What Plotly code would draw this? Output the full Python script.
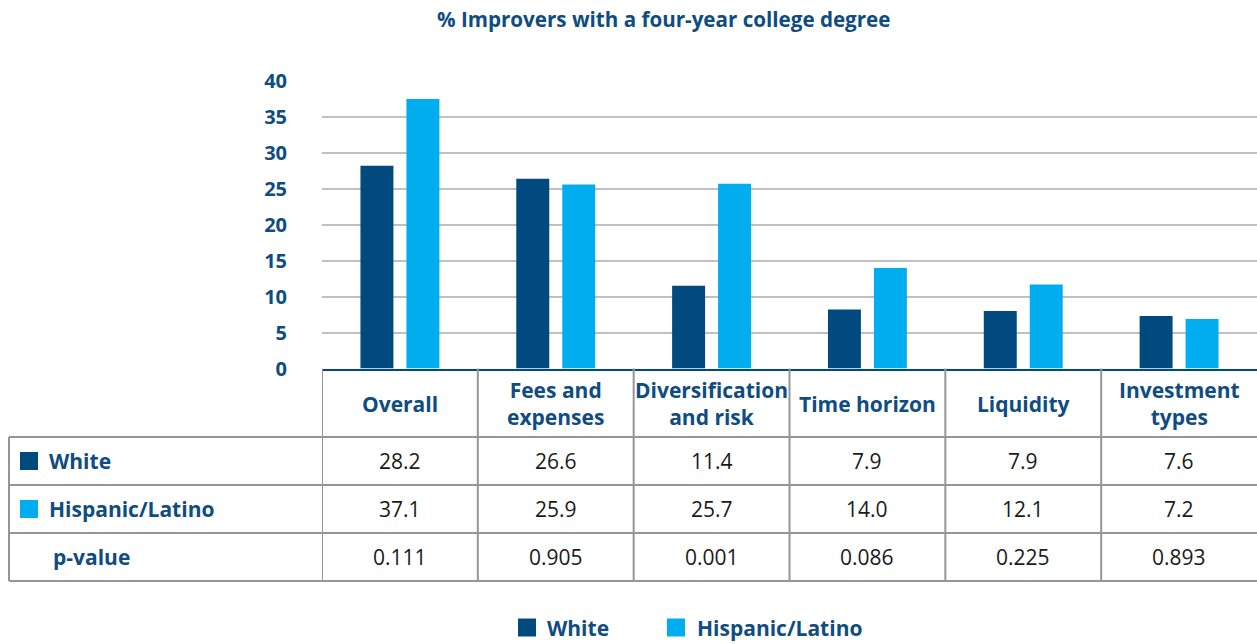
import plotly.graph_objects as go

# ---------------- data ----------------
categories = ["Overall", "Fees and<br>expenses", "Diversification<br>and risk",
              "Time horizon", "Liquidity", "Investment<br>types"]
series_names = ["White", "Hispanic/Latino"]
white_bars = [28.2, 26.4, 11.5, 8.2, 8.0, 7.3]
hispanic_bars = [37.5, 25.6, 25.7, 14.0, 11.7, 6.9]
white_table = ["28.2", "26.6", "11.4", "7.9", "7.9", "7.6"]
hispanic_table = ["37.1", "25.9", "25.7", "14.0", "12.1", "7.2"]
pvalues = ["0.111", "0.905", "0.001", "0.086", "0.225", "0.893"]
y_ticks = [0, 5, 10, 15, 20, 25, 30, 35, 40]
title_text = "% Improvers with a four-year college degree"

# ---------------- style ----------------
W, H = 1257, 644
DARK = "#004a80"
LIGHT = "#00aeef"
TXT = "#0f4c81"
GRID = "#c0c0c0"
BORDER = "#969696"
FONT = "Open Sans"
WEIGHT = "bold"


def py(p):  # pixel y -> paper y
    return 1 - p / H


def px(p):  # pixel x -> paper x
    return p / W


x_idx = list(range(len(categories)))

fig = go.Figure()
fig.add_trace(go.Bar(x=x_idx, y=white_bars, name=series_names[0], marker_color=DARK,
                     marker_line_width=0, showlegend=False))
fig.add_trace(go.Bar(x=x_idx, y=hispanic_bars, name=series_names[1], marker_color=LIGHT,
                     marker_line_width=0, showlegend=False))

plot_left = 322
y0_px, y40_px = 368.5, 81

shapes = []
annotations = []

# table geometry (pixels)
header_top, header_bot = 368.5, 437
row_bounds = [437, 485, 533, 581]
table_left = 9

# horizontal lines
for yb in row_bounds:
    shapes.append(dict(type="line", xref="paper", yref="paper", x0=px(table_left), x1=1,
                       y0=py(yb), y1=py(yb), line=dict(color=BORDER, width=2)))
# left border
shapes.append(dict(type="line", xref="paper", yref="paper", x0=px(table_left), x1=px(table_left),
                   y0=py(row_bounds[0]), y1=py(row_bounds[-1]), line=dict(color=BORDER, width=2)))
# column borders (through the x axis scale)
for i in range(len(categories)):
    shapes.append(dict(type="line", xref="x", yref="paper", x0=i - 0.5, x1=i - 0.5,
                       y0=py(header_top), y1=py(row_bounds[-1]), line=dict(color=BORDER, width=2)))

# header labels
for i, c in enumerate(categories):
    annotations.append(dict(xref="x", yref="paper", x=i, y=py((header_top + header_bot) / 2 + 1),
                            text=c, showarrow=False, xanchor="center", yanchor="middle",
                            font=dict(family=FONT, size=21, color=TXT, weight=WEIGHT)))

# row values
rows = [white_table, hispanic_table, pvalues]
for r, vals in enumerate(rows):
    yc = (row_bounds[r] + row_bounds[r + 1]) / 2
    for i, v in enumerate(vals):
        annotations.append(dict(xref="x", yref="paper", x=i, y=py(yc), text=v, showarrow=False,
                                xanchor="center", yanchor="middle",
                                font=dict(family="Open Sans", size=21, color="#1a1a1a")))

# row labels
row_labels = [series_names[0], series_names[1], "p-value"]
row_colors = [DARK, LIGHT, None]
for r, lab in enumerate(row_labels):
    yc = (row_bounds[r] + row_bounds[r + 1]) / 2
    if row_colors[r]:
        shapes.append(dict(type="rect", xref="paper", yref="paper", x0=px(20), x1=px(38),
                           y0=py(yc - 9), y1=py(yc + 9), fillcolor=row_colors[r], line_width=0))
        xt = 47
    else:
        xt = 51
    annotations.append(dict(xref="paper", yref="paper", x=px(xt), y=py(yc), text=lab,
                            showarrow=False, xanchor="left", yanchor="middle",
                            font=dict(family=FONT, size=21, color=TXT, weight=WEIGHT)))

# bottom legend
leg_y = 627.5
for (sx, tx, name, col) in [(518, 545, series_names[0], DARK), (667, 695, series_names[1], LIGHT)]:
    shapes.append(dict(type="rect", xref="paper", yref="paper", x0=px(sx), x1=px(sx + 18),
                       y0=py(leg_y - 9), y1=py(leg_y + 9), fillcolor=col, line_width=0))
    annotations.append(dict(xref="paper", yref="paper", x=px(tx), y=py(leg_y), text=name,
                            showarrow=False, xanchor="left", yanchor="middle",
                            font=dict(family=FONT, size=21, color=TXT, weight=WEIGHT)))

# title
annotations.append(dict(xref="paper", yref="paper", x=px(663), y=py(19), text=title_text,
                        showarrow=False, xanchor="center", yanchor="middle",
                        font=dict(family=FONT, size=20.6, color=TXT, weight=WEIGHT)))

fig.update_layout(
    width=W, height=H,
    margin=dict(l=0, r=0, t=0, b=0, pad=0, autoexpand=False),
    paper_bgcolor="white", plot_bgcolor="white",
    barmode="group", bargap=0.41, bargroupgap=0.283,
    xaxis=dict(domain=[px(plot_left), 1], range=[-0.5, len(categories) - 0.5],
               showticklabels=False, showgrid=False, zeroline=False, ticks="",
               showline=True, linecolor=DARK, linewidth=2, automargin=False),
    yaxis=dict(domain=[py(y0_px), py(y40_px)], range=[0, 40], tickvals=y_ticks,
               showgrid=True, gridcolor=GRID, gridwidth=2, zeroline=False, showline=False,
               ticks="", ticklabelstandoff=34, automargin=False,
               tickfont=dict(family=FONT, size=20, color=TXT, weight=WEIGHT)),
    shapes=shapes, annotations=annotations,
)

fig.write_html("out.html")
